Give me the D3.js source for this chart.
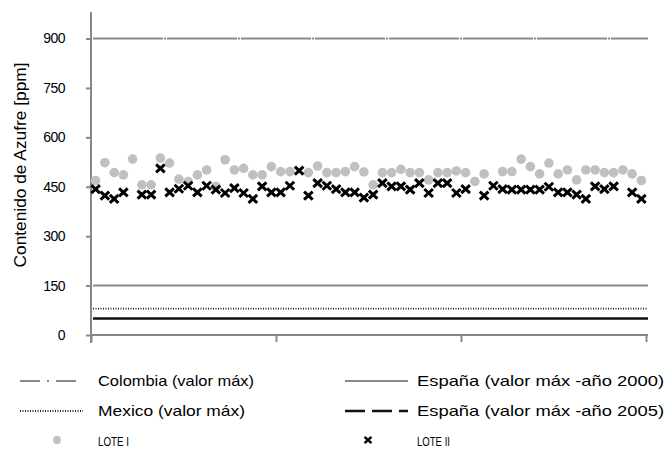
<!DOCTYPE html>
<html><head><meta charset="utf-8">
<script src="https://cdn.jsdelivr.net/npm/d3@7"></script>
<style>
body{margin:0;background:#fff;}
svg{display:block;font-family:"Liberation Sans",Arial,sans-serif;}
</style></head><body>
<svg id="chart" width="666" height="453"></svg>
<script>
// Sulphur content per sample (ppm); null = no measurement
const yTicks = [0, 150, 300, 450, 600, 750, 900];
const xTicks = [0, 20, 40, 60];
const sampleCount = 60;

const loteI = [469, 523, 493, 486, 534, 456, 456, 537, 522, 473,
               466, 486, 501, 451, 532, 501, 506, 486, 486, 511,
               496, 496, null, 493, 513, 493, 493, 496, 511, 495,
               456, 493, 493, 503, 493, 493, 471, 493, 493, 498,
               493, 466, 489, null, 496, 496, 534, 511, 489, 522,
               489, 501, 471, 501, 501, 493, 493, 501, 489, 469];

const loteII = [443, 423, 413, 433, null, 426, 426, 506, 433, 444,
                453, 433, 453, 441, 431, 446, 431, 413, 451, 433,
                433, 453, 499, 423, 461, 453, 443, 433, 433, 417,
                426, 461, 451, 451, 441, 461, 431, 461, 461, 431,
                443, null, 423, 453, 443, 441, 441, 441, 441, 450,
                433, 433, 426, 413, 451, 443, 451, null, 433, 413];

// Regulatory limits (ppm)
const limitNames = ["Colombia (valor máx)", "España (valor máx -año 2000)",
                    "Mexico (valor máx)", "España (valor máx -año 2005)"];
const limitValues = [900, 150, 80, 50];
const seriesNames = ["LOTE I", "LOTE II"];

const axisColor = "#878787";
const limitStyles = [
  {stroke: "#8a8a8a", width: 2, dash: "70,1,2,1", legendDash: "20,7,2,7"},
  {stroke: "#8a8a8a", width: 2, dash: null, legendDash: null},
  {stroke: "#222", width: 1.8, dash: "1,1.5", legendDash: "1,1.5"},
  {stroke: "#111", width: 2.5, dash: null, legendDash: "20,7"}
];

const svg = d3.select("#chart");
const x = d3.scaleLinear().domain([0, sampleCount]).range([91, 646]);
const y = d3.scaleLinear().domain([0, 900]).range([335, 38.5]);

// limit lines
svg.append("g").selectAll("line").data(limitValues).join("line")
  .attr("x1", x(0) + 2).attr("x2", x(sampleCount) + 2)
  .attr("y1", d => y(d)).attr("y2", d => y(d))
  .attr("stroke", (d, i) => limitStyles[i].stroke)
  .attr("stroke-width", (d, i) => limitStyles[i].width)
  .attr("stroke-dasharray", (d, i) => limitStyles[i].dash);

// y axis
const yAxis = svg.append("g").attr("transform", `translate(${x(0)},0)`)
  .call(d3.axisLeft(y).tickValues(yTicks).tickSize(5).tickPadding(21).tickFormat(d3.format("d")));
yAxis.select(".domain").remove();
yAxis.selectAll(".tick line").attr("stroke", axisColor).attr("stroke-width", 2);
yAxis.selectAll(".tick text").attr("fill", "#000").attr("font-size", 14)
  .attr("font-family", "Liberation Sans, Arial, sans-serif").attr("letter-spacing", -0.5);
svg.append("line").attr("x1", x(0)).attr("x2", x(0)).attr("y1", 12).attr("y2", 343)
  .attr("stroke", axisColor).attr("stroke-width", 2);

// x axis
const xAxis = svg.append("g").attr("transform", `translate(0,${y(0)})`)
  .call(d3.axisBottom(x).tickValues(xTicks).tickSize(7).tickFormat(""));
xAxis.select(".domain").remove();
xAxis.selectAll(".tick line").attr("stroke", axisColor).attr("stroke-width", 2);
svg.append("line").attr("x1", x(0)).attr("x2", x(sampleCount) + 2).attr("y1", y(0)).attr("y2", y(0))
  .attr("stroke", axisColor).attr("stroke-width", 2);

// y title
svg.append("text").attr("transform", "translate(26,165) rotate(-90)")
  .attr("text-anchor", "middle").attr("font-size", 16)
  .attr("textLength", 205).attr("lengthAdjust", "spacingAndGlyphs")
  .text("Contenido de Azufre [ppm]");

const crossPath = "M-4.3,-4L4.3,4M-4.3,4L4.3,-4";

// LOTE I markers
svg.append("g").selectAll("circle")
  .data(loteI.map((v, i) => ({i, v})).filter(d => d.v != null))
  .join("circle")
  .attr("cx", d => x(d.i + 0.5)).attr("cy", d => y(d.v)).attr("r", 4.8)
  .attr("fill", "#c0c0c0");

// LOTE II markers
svg.append("g").selectAll("path")
  .data(loteII.map((v, i) => ({i, v})).filter(d => d.v != null))
  .join("path")
  .attr("transform", d => `translate(${x(d.i + 0.5)},${y(d.v)})`)
  .attr("d", crossPath).attr("stroke", "#000").attr("stroke-width", 3)
  .attr("fill", "none");

// legend
const legend = svg.append("g");
const colX = [20, 345];
const textX = [98, 417];
const rowY = [381, 411];
const limitTextLen = [156, 247, 147, 247];
limitNames.forEach((name, i) => {
  const c = i % 2, r = Math.floor(i / 2);
  const st = limitStyles[i];
  legend.append("line")
    .attr("x1", colX[c]).attr("x2", colX[c] + 63)
    .attr("y1", rowY[r]).attr("y2", rowY[r])
    .attr("stroke", st.stroke).attr("stroke-width", st.width)
    .attr("stroke-dasharray", st.legendDash);
  legend.append("text").attr("x", textX[c]).attr("y", rowY[r] + 5)
    .attr("font-size", 15).attr("textLength", limitTextLen[i])
    .attr("lengthAdjust", "spacingAndGlyphs").text(name);
});
legend.append("circle").attr("cx", 57).attr("cy", 440).attr("r", 4).attr("fill", "#c0c0c0");
legend.append("path").attr("transform", "translate(368,440) scale(0.8)")
  .attr("d", crossPath).attr("stroke", "#000").attr("stroke-width", 3);
seriesNames.forEach((name, i) => {
  legend.append("text").attr("x", textX[i]).attr("y", 445.5)
    .attr("font-size", 13).attr("textLength", i === 0 ? 31 : 33)
    .attr("lengthAdjust", "spacingAndGlyphs").text(name);
});
</script>
</body></html>
